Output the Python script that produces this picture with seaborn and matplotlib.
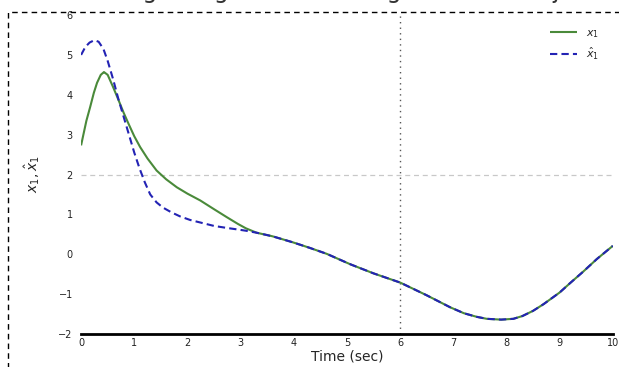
import numpy as np
import pandas as pd
import matplotlib
matplotlib.use("Agg")
import matplotlib.pyplot as plt
import seaborn as sns
from matplotlib.patches import Rectangle

# ---- data ----
t_common = [3.3, 3.6, 3.98, 4.3, 4.62, 5.06, 5.5, 6.0, 6.5, 6.94, 7.2, 7.44, 7.63, 7.9, 8.13, 8.3, 8.5, 8.7, 9.0, 9.2, 9.44, 9.7, 10.0]
v_common = [0.54, 0.45, 0.30, 0.16, 0.01, -0.25, -0.48, -0.71, -1.03, -1.33, -1.48, -1.57, -1.62, -1.64, -1.62, -1.55, -1.42, -1.25, -0.96, -0.72, -0.44, -0.12, 0.21]

t_x1 = [0.0, 0.04, 0.10, 0.17, 0.24, 0.30, 0.37, 0.43, 0.50, 0.60, 0.70, 0.80, 0.90, 1.00, 1.11, 1.25, 1.42,
        1.60, 1.80, 2.00, 2.24, 2.50, 2.74, 2.95, 3.10]
v_x1 = [2.73, 2.98, 3.35, 3.69, 4.05, 4.30, 4.50, 4.57, 4.50, 4.20, 3.88, 3.55, 3.25, 2.96, 2.69, 2.40, 2.10,
        1.88, 1.68, 1.52, 1.35, 1.13, 0.93, 0.76, 0.65]

t_xhat = [0.0, 0.08, 0.16, 0.25, 0.33, 0.42, 0.50, 0.60, 0.70, 0.80, 0.90, 1.00, 1.10, 1.20, 1.30, 1.42,
          1.54, 1.70, 1.86, 2.05, 2.29, 2.50, 2.74, 2.95, 3.10]
v_xhat = [5.00, 5.20, 5.31, 5.37, 5.33, 5.15, 4.85, 4.40, 3.90, 3.45, 3.00, 2.55, 2.15, 1.80, 1.50, 1.30,
          1.17, 1.05, 0.95, 0.86, 0.78, 0.71, 0.66, 0.62, 0.59]

labels = [r"$x_1$", r"$\hat{x}_1$"]
xticks = list(range(0, 11))
yticks = list(range(-2, 7))

df = pd.concat([
    pd.DataFrame({"t": t_x1 + t_common, "v": v_x1 + v_common, "s": labels[0]}),
    pd.DataFrame({"t": t_xhat + t_common, "v": v_xhat + v_common, "s": labels[1]}),
])

sns.set_theme(style="white")
plt.rcParams['font.family'] = ['DejaVu Sans']

fig = plt.figure(figsize=(6.19, 3.67), dpi=100)
ax = fig.add_axes([0.131, 0.090, 0.859, 0.869])

ax.axhline(2, color="#c8c8c8", lw=0.9, ls=(0, (4, 3)), zorder=1)
ax.axvline(6, color="#555555", lw=1.0, ls=(0, (1, 3)), zorder=1)

sns.lineplot(data=df, x="t", y="v", hue="s", style="s", sort=False,
             palette=["#4a8a3a", "#2323b4"], dashes=[(1, 0), (3.5, 2)],
             linewidth=1.5, ax=ax, legend=True, estimator=None)

ax.set_xlim(0, 10)
ax.set_ylim(-2, 6)
ax.set_xticks(xticks)
ax.set_yticks(yticks)
ax.tick_params(axis="both", labelsize=7, colors="#222222", length=3, width=0.8)
ax.tick_params(axis="x", direction="in", pad=3)
ax.tick_params(axis="y", direction="out", pad=3)
for side in ["top", "right", "left"]:
    ax.spines[side].set_visible(False)
ax.spines["bottom"].set_color("black")
ax.spines["bottom"].set_linewidth(2.0)

ax.set_xlabel("Time (sec)", fontsize=10, labelpad=1)
ax.set_ylabel(r"$x_1, \hat{x}_1$", fontsize=10, labelpad=12)

leg = ax.legend(loc="upper right", frameon=False, fontsize=8, title=None,
                handlelength=2.5, borderaxespad=0.8)

fig.text(0.56, 1.0 + 2/367, "Tracking using observer: Angle and its Trajectory",
         fontsize=17, ha="center", va="baseline", color="#333333")

fig.patches.append(Rectangle((8/619, -0.05), 1.2, (367-12)/367 + 0.05,
                             transform=fig.transFigure, fill=False,
                             edgecolor="black", lw=1.0, ls=(0, (4, 3)), zorder=10))

fig.savefig("out.png", dpi=100)
